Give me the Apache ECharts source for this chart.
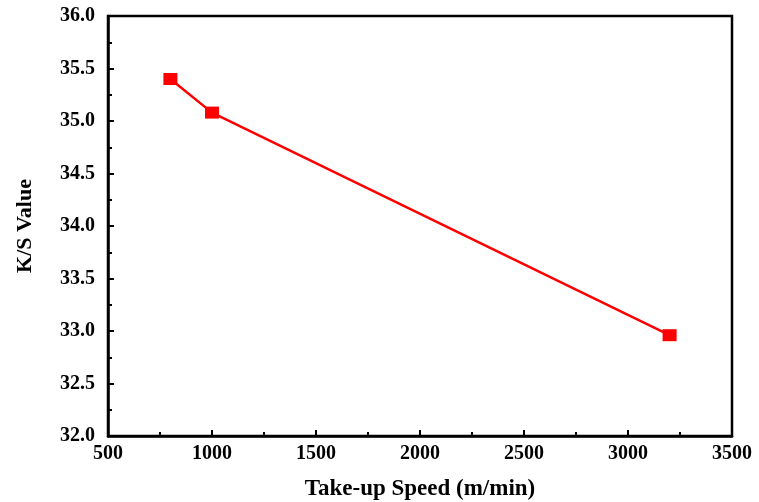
<!DOCTYPE html>
<html>
<head>
<meta charset="utf-8">
<script src="https://cdn.jsdelivr.net/npm/echarts@6/dist/echarts.min.js"></script>
<style>
  html, body { margin: 0; padding: 0; background: #fff; }
  #main { width: 759px; height: 502px; }
</style>
</head>
<body>
<div id="main"></div>
<script>
// take-up speed (m/min) and K/S value
const speeds = [800, 1000, 3200];
const ksValues = [35.40, 35.08, 32.96];

const font = '"Liberation Serif", "Times New Roman", serif';
const axisColor = '#000';

let myChart = echarts.init(document.getElementById('main'));

let option = {
  backgroundColor: '#fff',
  animation: false,
  grid: {
    left: 108, right: 27, top: 16, bottom: 66,
    outerBoundsMode: 'none',
    show: true, borderColor: axisColor, borderWidth: 2.5
  },
  xAxis: {
    type: 'value',
    min: 500, max: 3500, interval: 500,
    name: 'Take-up Speed (m/min)',
    nameLocation: 'middle',
    nameGap: 42,
    nameTextStyle: { fontFamily: font, fontWeight: 'bold', fontSize: 23, color: '#000' },
    axisLine: { show: true, lineStyle: { color: axisColor, width: 2.5 } },
    axisTick: { show: true, inside: true, length: 6, lineStyle: { width: 2 } },
    minorTick: { show: true, splitNumber: 2, length: 4, lineStyle: { color: axisColor, width: 2 } },
    axisLabel: {
      fontFamily: font, fontWeight: 'bold', fontSize: 20, color: '#000', margin: 8,
      formatter: v => String(v)
    },
    splitLine: { show: false }
  },
  yAxis: {
    type: 'value',
    min: 32, max: 36, interval: 0.5,
    name: 'K/S Value',
    nameLocation: 'middle',
    nameGap: 72,
    nameTextStyle: { fontFamily: font, fontWeight: 'bold', fontSize: 22, color: '#000' },
    axisLine: { show: true, lineStyle: { color: axisColor, width: 2.5 } },
    axisTick: { show: true, inside: true, length: 6, lineStyle: { width: 2 } },
    minorTick: { show: true, splitNumber: 2, length: 4, lineStyle: { color: axisColor, width: 2 } },
    axisLabel: {
      fontFamily: font, fontWeight: 'bold', fontSize: 20, color: '#000', margin: 13,
      formatter: v => v.toFixed(1)
    },
    splitLine: { show: false }
  },
  series: [
    {
      type: 'line',
      data: speeds.map((s, i) => [s, ksValues[i]]),
      symbol: 'rect',
      symbolSize: [14, 12],
      itemStyle: { color: '#ff0000' },
      lineStyle: { color: '#ff0000', width: 2.5 }
    }
  ]
};
myChart.setOption(option);
</script>
</body>
</html>
